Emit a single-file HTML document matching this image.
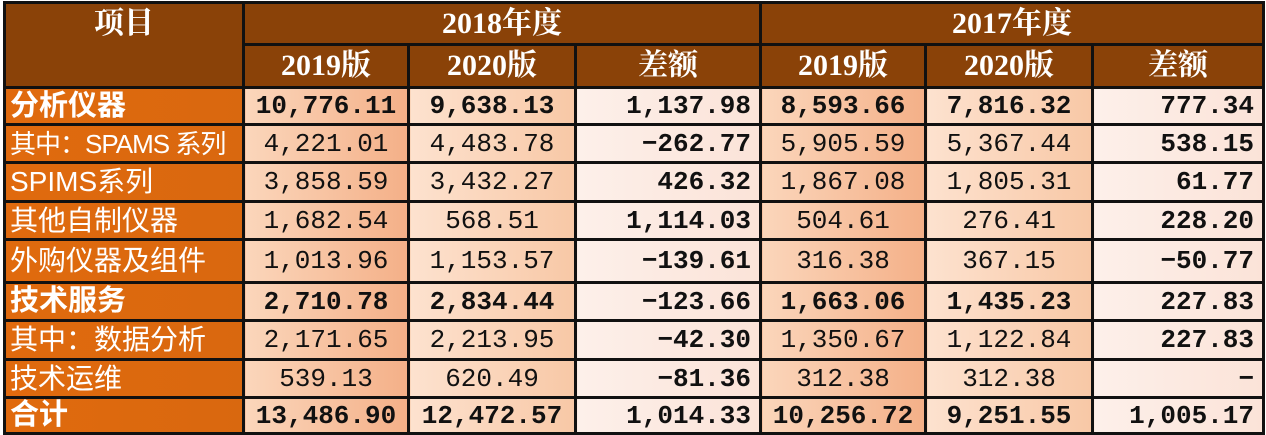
<!DOCTYPE html>
<html><head><meta charset="utf-8"><style>
html,body{margin:0;padding:0;background:#fff;width:1266px;height:434px;overflow:hidden}
table{position:absolute;left:3px;top:1px;border-collapse:collapse;table-layout:fixed;width:1259px}
td{border:3px solid #111;padding:0;overflow:hidden;white-space:nowrap;font-family:"Liberation Mono","Noto Serif CJK SC",monospace;font-size:26px;color:#111;text-align:center;line-height:1}
.h{background:#8a4208;color:#fff;font-family:"Liberation Serif","Noto Serif CJK SC",serif;font-weight:bold;font-size:30px}
.l{background:linear-gradient(90deg,#e06a0e,#d9680f);color:#fff;text-align:left;padding-left:4px;font-family:"Liberation Sans","Noto Sans CJK SC",sans-serif;font-size:28px}
.a{background:linear-gradient(90deg,#fbd6bb,#f4b088)}
.b{background:linear-gradient(90deg,#fde2cf,#f8c8a6)}
.c{background:linear-gradient(90deg,#fdf0ea,#fbe3d8);text-align:right;padding-right:8px;font-weight:bold}
.B td{font-weight:bold}
.B td.l{font-weight:bold;font-size:29px}
</style></head><body>
<table>
<colgroup><col style="width:239px"><col style="width:165px"><col style="width:167px"><col style="width:185px"><col style="width:165px"><col style="width:167px"><col style="width:171px"></colgroup>
<tr style="height:42px"><td class="h" rowspan="2" style="vertical-align:top;padding-top:5px">项目</td><td class="h" colspan="3">2018年度</td><td class="h" colspan="3">2017年度</td></tr>
<tr style="height:43px"><td class="h">2019版</td><td class="h">2020版</td><td class="h">差额</td><td class="h">2019版</td><td class="h">2020版</td><td class="h">差额</td></tr>
<tr class="B" style="height:37px"><td class="l">分析仪器</td><td class="a">10,776.11</td><td class="b">9,638.13</td><td class="c">1,137.98</td><td class="a">8,593.66</td><td class="b">7,816.32</td><td class="c">777.34</td></tr>
<tr style="height:38px"><td class="l" style="font-size:26px;letter-spacing:-1px">其中：SPAMS 系列</td><td class="a">4,221.01</td><td class="b">4,483.78</td><td class="c">−262.77</td><td class="a">5,905.59</td><td class="b">5,367.44</td><td class="c">538.15</td></tr>
<tr style="height:39px"><td class="l">SPIMS系列</td><td class="a">3,858.59</td><td class="b">3,432.27</td><td class="c">426.32</td><td class="a">1,867.08</td><td class="b">1,805.31</td><td class="c">61.77</td></tr>
<tr style="height:38px"><td class="l">其他自制仪器</td><td class="a">1,682.54</td><td class="b">568.51</td><td class="c">1,114.03</td><td class="a">504.61</td><td class="b">276.41</td><td class="c">228.20</td></tr>
<tr style="height:43px"><td class="l">外购仪器及组件</td><td class="a">1,013.96</td><td class="b">1,153.57</td><td class="c">−139.61</td><td class="a">316.38</td><td class="b">367.15</td><td class="c">−50.77</td></tr>
<tr class="B" style="height:38px"><td class="l">技术服务</td><td class="a">2,710.78</td><td class="b">2,834.44</td><td class="c">−123.66</td><td class="a">1,663.06</td><td class="b">1,435.23</td><td class="c">227.83</td></tr>
<tr style="height:39px"><td class="l">其中：数据分析</td><td class="a">2,171.65</td><td class="b">2,213.95</td><td class="c">−42.30</td><td class="a">1,350.67</td><td class="b">1,122.84</td><td class="c">227.83</td></tr>
<tr style="height:38px"><td class="l">技术运维</td><td class="a">539.13</td><td class="b">620.49</td><td class="c">−81.36</td><td class="a">312.38</td><td class="b">312.38</td><td class="c">−</td></tr>
<tr class="B" style="height:36px"><td class="l">合计</td><td class="a">13,486.90</td><td class="b">12,472.57</td><td class="c">1,014.33</td><td class="a">10,256.72</td><td class="b">9,251.55</td><td class="c">1,005.17</td></tr>
</table>
</body></html>
